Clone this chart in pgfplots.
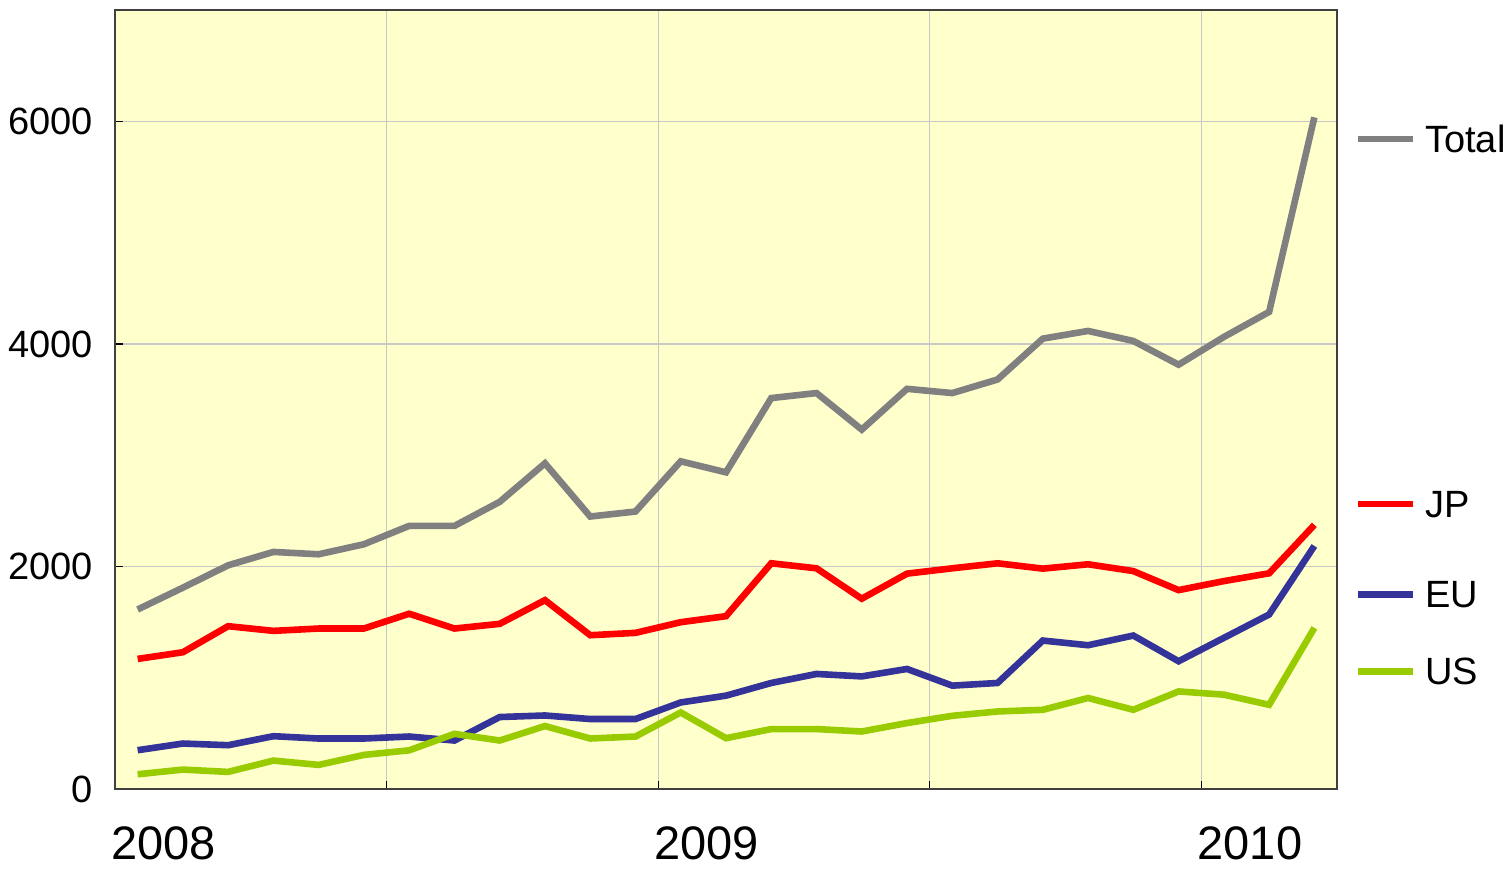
\documentclass[border=0pt]{standalone}
\usepackage{pgfplots}
\usepackage{pgfplotstable}
\pgfplotsset{compat=1.18}
\usepackage{fontspec}
\setmainfont{Liberation Sans}
\definecolor{bgyellow}{RGB}{255,255,204}
\definecolor{cTotal}{RGB}{128,128,128}
\definecolor{cJP}{RGB}{255,0,0}
\definecolor{cEU}{RGB}{51,51,153}
\definecolor{cUS}{RGB}{153,204,0}
\definecolor{gridc}{RGB}{200,200,200}
\definecolor{axc}{RGB}{64,64,64}

\pgfplotstableread{
x total jp eu us
0.5 1615 1171 351 135
1.5 1811 1231 411 177
2.5 2012 1465 396 156
3.5 2132 1423 477 258
4.5 2111 1444 456 219
5.5 2201 1444 456 309
6.5 2366 1577 474 350
7.5 2366 1444 438 498
8.5 2582 1486 649 438
9.5 2928 1699 663 568
10.5 2450 1384 631 456
11.5 2495 1405 631 474
12.5 2946 1501 780 690
13.5 2847 1555 841 459
14.5 3514 2030 955 541
15.5 3559 1985 1036 541
16.5 3231 1712 1014 519
17.5 3597 1937 1081 595
18.5 3559 1985 931 660
19.5 3681 2030 955 699
20.5 4048 1982 1336 714
21.5 4117 2021 1294 820
22.5 4027 1960 1381 714
23.5 3814 1789 1150 879
24.5 4063 1870 1360 850
25.5 4288 1940 1570 759
26.5 6036 2375 2186 1450
}\datatable

\begin{document}
\begin{tikzpicture}
\path[use as bounding box] (0,0) rectangle (755pt,435pt);
\begin{axis}[
  at={(57.5pt,40.35pt)}, anchor=south west,
  scale only axis, width=611pt, height=389.65pt,
  xmin=0, xmax=27, ymin=0, ymax=7000,
  axis background/.style={fill=bgyellow},
  axis line style={axc, line width=0.8pt},
  xtick={0,6,12,18,24}, xticklabels={2008,,2009,,2010},
  ytick={0,2000,4000,6000}, yticklabels={0,2000,4000,6000},
  xmajorgrids, ymajorgrids, grid style={gridc, line width=0.6pt},
  tick align=inside, xtick pos=left, ytick pos=left,
  major tick length=4pt, tick style={black, line width=0.6pt},
  xticklabel style={anchor=north west, inner sep=0pt, xshift=-2pt, yshift=-18.5pt, font=\fontsize{23.5}{28}\selectfont},
  yticklabel style={anchor=east, inner sep=0pt, xshift=-11pt, font=\fontsize{19}{22}\selectfont},
  clip=false,
  every axis plot/.append style={line width=3.3pt, line cap=butt, line join=miter},
]
\addplot[cTotal] table[x=x, y=total] {\datatable};
\addplot[cJP] table[x=x, y=jp] {\datatable};
\addplot[cEU] table[x=x, y=eu] {\datatable};
\addplot[cUS] table[x=x, y=us] {\datatable};

\draw[cTotal, line width=3.3pt] (axis cs:27.46,5840) -- (axis cs:28.68,5840);
\node[anchor=west, inner sep=0pt, font=\fontsize{19}{22}\selectfont] at (axis cs:28.94,5840) {Total};
\draw[cJP, line width=3.3pt] (axis cs:27.46,2561) -- (axis cs:28.68,2561);
\node[anchor=west, inner sep=0pt, font=\fontsize{19}{22}\selectfont] at (axis cs:28.94,2561) {JP};
\draw[cEU, line width=3.3pt] (axis cs:27.46,1751) -- (axis cs:28.68,1751);
\node[anchor=west, inner sep=0pt, font=\fontsize{19}{22}\selectfont] at (axis cs:28.94,1751) {EU};
\draw[cUS, line width=3.3pt] (axis cs:27.46,1057) -- (axis cs:28.68,1057);
\node[anchor=west, inner sep=0pt, font=\fontsize{19}{22}\selectfont] at (axis cs:28.94,1057) {US};
\end{axis}
\end{tikzpicture}
\end{document}
